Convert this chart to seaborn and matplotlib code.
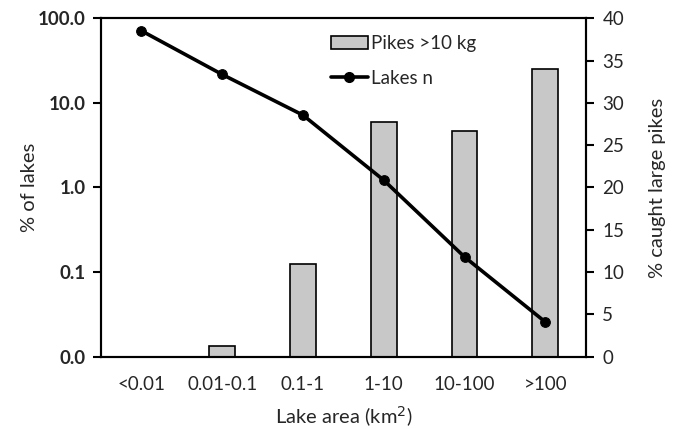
import numpy as np
import pandas as pd
import matplotlib
matplotlib.use("Agg")
import matplotlib.pyplot as plt
import seaborn as sns
from matplotlib.lines import Line2D
from matplotlib.patches import Patch

categories = ["<0.01", "0.01-0.1", "0.1-1", "1-10", "10-100", ">100"]
lakes_pct = [71.3, 21.7, 7.17, 1.22, 0.151, 0.0257]
pikes_pct = [0.0, 1.3, 10.9, 27.7, 26.7, 34.0]
left_ticks = [0.01, 0.1, 1, 10, 100]
left_tick_labels = ["0.0", "0.1", "1.0", "10.0", "100.0"]
right_ticks = [0, 5, 10, 15, 20, 25, 30, 35, 40]

sns.set_style("white")
plt.rcParams["font.family"] = ["Lato", "DejaVu Sans"]

TICK_FS = 13.5
LABEL_FS = 14.5

df = pd.DataFrame({"cat": categories, "lakes": lakes_pct, "pikes": pikes_pct})

fig = plt.figure(figsize=(6.76, 4.29), dpi=100)
ax = fig.add_axes([0.1494, 0.1687, 0.8664 - 0.1494, 0.9573 - 0.1687])
ax2 = ax.twinx()

sns.barplot(data=df, x="cat", y="pikes", ax=ax2, width=0.32, color="#c8c8c8",
            edgecolor="black", linewidth=1.2, saturation=1)
sns.lineplot(data=df, x="cat", y="lakes", ax=ax, color="black", linewidth=2.6,
             marker="o", markersize=7, markeredgecolor="black", sort=False)

ax.set_zorder(ax2.get_zorder() + 1)
ax.patch.set_visible(False)

ax.set_yscale("log")
ax.set_ylim(0.01, 100)
ax.set_yticks(left_ticks)
ax.set_yticklabels(left_tick_labels, fontweight="bold", fontsize=TICK_FS)
ax.yaxis.set_minor_locator(matplotlib.ticker.NullLocator())
ax.set_xlim(-0.5, 5.5)
ax2.set_xlim(-0.5, 5.5)
ax.set_xticks(range(len(categories)))
ax.set_xticklabels(categories, fontsize=TICK_FS)
ax.set_xticks(np.arange(-0.5, len(categories)), minor=True)
ax.tick_params(axis="x", which="major", length=0, pad=14)
ax.tick_params(axis="x", which="minor", length=6, width=1.5, direction="out", color="black")
ax.tick_params(axis="y", which="major", length=6, width=1.5, direction="out", color="black", left=True, pad=5)
ax.set_xlabel("Lake area (km$^{2}$)", fontsize=LABEL_FS, labelpad=8)
ax.set_ylabel("% of lakes", fontsize=LABEL_FS, labelpad=0)

ax2.set_ylim(0, 40)
ax2.set_yticks(right_ticks)
ax2.set_yticklabels([str(t) for t in right_ticks], fontsize=TICK_FS)
ax2.tick_params(axis="y", length=6, width=1.5, direction="out", color="black", right=True, pad=6)
ax2.set_ylabel("% caught large pikes", fontsize=LABEL_FS, labelpad=18)
ax2.set_xlabel("")

for a in (ax, ax2):
    for s in a.spines.values():
        s.set_visible(True)
        s.set_color("black")
        s.set_linewidth(1.5)

handles = [Patch(facecolor="#c8c8c8", edgecolor="black", linewidth=1.2),
           Line2D([0], [0], color="black", linewidth=2.6, marker="o", markersize=7)]
ax.legend(handles, ["Pikes >10 kg", "Lakes n"], loc="upper left",
          bbox_to_anchor=(0.44, 1.0), frameon=False, fontsize=TICK_FS,
          handlelength=1.95, handleheight=0.7, handletextpad=0.2, labelspacing=0.95)

fig.savefig("out.png", dpi=100)
